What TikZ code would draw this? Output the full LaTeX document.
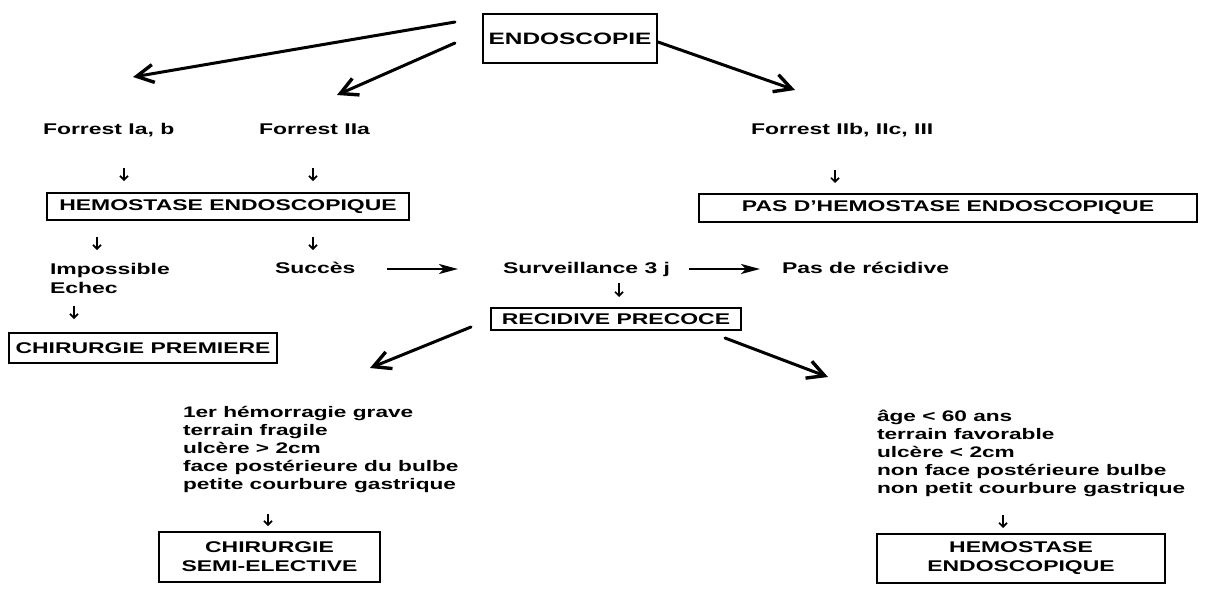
\documentclass[tikz,border=0pt]{standalone}
\usepackage{fontspec}
\setmainfont{Liberation Sans}[FakeStretch=1.48]
\usetikzlibrary{arrows.meta}
\newcommand\dfont[2]{\fontsize{#1}{#2}\selectfont\bfseries}
\begin{document}
\begin{tikzpicture}[x=1pt,y=-1pt,
  every node/.style={inner sep=0pt, outer sep=0pt},
  box/.style={draw, line width=1.7pt, align=center, font=\dfont{15.5}{19}},
  lbl/.style={anchor=base west, font=\dfont{15.5}{19}},
  blk/.style={anchor=north west, align=left, font=\dfont{15.3}{18}},
  bigarrow/.style={line width=3pt, line cap=round, -{Straight Barb[length=17pt,width=18pt,line width=3.4pt]}},
  smallarrow/.style={line width=1.7pt, -{Straight Barb[length=4pt,width=8pt]}},
  harrow/.style={line width=2.4pt, -{Stealth[length=19pt,width=10pt,inset=5pt]}}
]
\useasboundingbox (0,0) rectangle (1218,590);
\fill[white] (0,0) rectangle (1218,590);

% nodes
\node[box, minimum width=174pt, minimum height=49pt, font=\dfont{16.5}{19}] (endo) at (570,38.5) {ENDOSCOPIE};
\node[lbl] (f1) at (43,134) {Forrest Ia, b};
\node[lbl] (f2) at (259,134) {Forrest IIa};
\node[lbl] (f3) at (751,134) {Forrest IIb, IIc, III};
\node[box, minimum width=362pt, minimum height=27pt] (he1) at (228,206.5) {HEMOSTASE ENDOSCOPIQUE};
\node[box, minimum width=498pt, minimum height=28pt] (pas) at (948,208) {PAS D'HEMOSTASE ENDOSCOPIQUE};
\node[blk, font=\dfont{15.5}{19}] (imp) at (50,263) {Impossible\\Echec};
\node[lbl] (suc) at (275,273) {Succès};
\node[lbl] (surv) at (503,273) {Surveillance 3 j};
\node[lbl] (pasr) at (782,273) {Pas de récidive};
\node[box, minimum width=250pt, minimum height=22pt] (rec) at (616,319) {RECIDIVE PRECOCE};
\node[box, minimum width=268pt, minimum height=30pt] (chp) at (143,348) {CHIRURGIE PREMIERE};
\node[blk] (crl) at (183,406) {1er hémorragie grave\\terrain fragile\\ulcère > 2cm\\face postérieure du bulbe\\petite courbure gastrique};
\node[blk] (crr) at (877,410) {âge < 60 ans\\terrain favorable\\ulcère < 2cm\\non face postérieure bulbe\\non petit courbure gastrique};
\node[box, minimum width=221pt, minimum height=50pt] (cse) at (269.5,557) {CHIRURGIE\\SEMI-ELECTIVE};
\node[box, minimum width=288pt, minimum height=49pt] (he2) at (1021,558.5) {HEMOSTASE\\ENDOSCOPIQUE};

% big arrows
\coordinate (a1s) at (455,22);  \coordinate (a1e) at (133,77);
\coordinate (a2s) at (455,43);  \coordinate (a2e) at (337,95);
\coordinate (a3s) at (658,42);  \coordinate (a3e) at (795,90);
\coordinate (a4s) at (471,327); \coordinate (a4e) at (370,368);
\coordinate (a5s) at (725,338); \coordinate (a5e) at (828,377);
\draw[bigarrow] (a1s) -- (a1e);
\draw[bigarrow] (a2s) -- (a2e);
\draw[bigarrow] (a3s) -- (a3e);
\draw[bigarrow] (a4s) -- (a4e);
\draw[bigarrow] (a5s) -- (a5e);

% horizontal arrows
\coordinate (h1s) at (387,269); \coordinate (h1e) at (458,269);
\coordinate (h2s) at (689,269); \coordinate (h2e) at (760,269);
\draw[harrow] (h1s) -- (h1e);
\draw[harrow] (h2s) -- (h2e);

% small arrows
\coordinate (s1a) at (124,168);  \coordinate (s1b) at (124,181);
\coordinate (s2a) at (313,168);  \coordinate (s2b) at (313,181);
\coordinate (s3a) at (835,170);  \coordinate (s3b) at (835,183);
\coordinate (s4a) at (97,237);   \coordinate (s4b) at (97,250);
\coordinate (s5a) at (313,237);  \coordinate (s5b) at (313,250);
\coordinate (s6a) at (74,306);   \coordinate (s6b) at (74,319);
\coordinate (s7a) at (619,283);  \coordinate (s7b) at (619,297);
\coordinate (s8a) at (268,514);  \coordinate (s8b) at (268,526);
\coordinate (s9a) at (1003,515); \coordinate (s9b) at (1003,528);
\foreach \i in {1,...,9} {\draw[smallarrow] (s\i a) -- (s\i b);}
\end{tikzpicture}
\end{document}
